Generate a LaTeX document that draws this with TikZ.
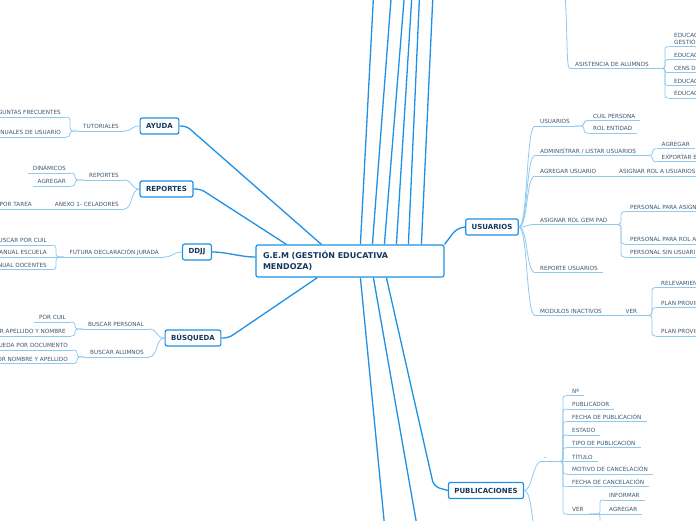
\documentclass[tikz,border=0pt]{standalone}
\usepackage{fontspec}
\setmainfont{DejaVu Sans}
\usepackage{tikz}
\usetikzlibrary{calc}
\usepackage{xcolor}
\definecolor{mmblue}{HTML}{1E90E6}
\definecolor{mmline}{HTML}{8DC9F0}
\definecolor{mmdark}{HTML}{15395E}
\definecolor{mmgray}{HTML}{3D566E}

\begin{document}
\begin{tikzpicture}[
  x=1pt, y=-1pt,
  thickline/.style={draw=mmblue, line width=1.3pt},
  thinline/.style={draw=mmline, line width=0.8pt},
  uline/.style={append after command={(\tikzlastnode.south west) edge[thinline] (\tikzlastnode.south east)}},
  lab/.style={font=\fontsize{5.7}{6.7}\selectfont, text=mmgray, inner xsep=5pt, inner ysep=2pt, text depth=0pt, uline},
  rlab/.style={lab, anchor=south west},
  llab/.style={lab, anchor=south east},
  topic/.style={draw=mmblue, line width=1.2pt, fill=white, rounded corners=2pt, font=\bfseries\fontsize{7}{8}\selectfont, text=mmdark, inner xsep=6pt, inner ysep=0pt, minimum height=16pt},
  rootbox/.style={topic, font=\bfseries\fontsize{8}{11}\selectfont, align=left, text width=174pt, minimum height=32pt, inner xsep=7pt},
]
\useasboundingbox (0,0) rectangle (696,520);
\clip (0,0) rectangle (696,520);

\node[rootbox] (main) at (350,261) {G.E.M (GESTIÓN EDUCATIVA\\MENDOZA)};

\node[topic] (ayuda) at (159.5,126) {AYUDA};
\node[topic] (rep) at (166.5,189) {REPORTES};
\node[topic] (ddjj) at (197,252) {DDJJ};
\node[topic] (busq) at (193,338) {BÚSQUEDA};
\node[topic] (usu) at (492,227) {USUARIOS};
\node[topic] (pub) at (486,490.5) {PUBLICACIONES};

\draw[thickline, rounded corners=5pt] (ayuda.east) -- ++(7,0) -- ([xshift=66pt]main.north west);
\draw[thickline, rounded corners=5pt] (rep.east) -- ++(7,0) -- ([xshift=31pt]main.north west);
\draw[thickline] (ddjj.east) .. controls +(16,0) and +(-16,0) .. ([yshift=4pt]main.west);
\draw[thickline, rounded corners=5pt] (busq.east) -- ++(7,0) -- ([xshift=62pt]main.south west);
\draw[thickline, rounded corners=6pt] (main.north east) -- ++(12,-16) -- (usu.west);
\draw[thickline, rounded corners=6pt] ([xshift=131pt]main.south west) -- ($(pub.west)+(-14,-4)$) -- (pub.west);

\coordinate (up1) at (373.6,-6);
\coordinate (up2) at (391.4,-6);
\coordinate (up3) at (404.5,-6);
\coordinate (up4) at (412,-6);
\coordinate (up5) at (419.6,-6);
\coordinate (up6) at (433,-6);
\coordinate (down1) at (384.6,526);
\coordinate (down2) at (417,526);
\draw[thickline] ([xshift=105pt]main.north west) -- (up1);
\draw[thickline] ([xshift=117pt]main.north west) -- (up2);
\draw[thickline] ([xshift=129pt]main.north west) -- (up3);
\draw[thickline] ([xshift=141pt]main.north west) -- (up4);
\draw[thickline] ([xshift=153pt]main.north west) -- (up5);
\draw[thickline] ([xshift=166pt]main.north west) -- (up6);
\draw[thickline] ([xshift=105pt]main.south west) -- (down1);
\draw[thickline] ([xshift=118pt]main.south west) -- (down2);

\node[llab] (tut) at (124,131) {TUTORIALES};
\node[llab] (preg) at (66,117) {GUNTAS FRECUENTES};
\node[llab] (manu) at (66,137) {NUALES DE USUARIO};
\draw[thinline] (ayuda.west) .. controls +(-9,0) and +(9,0) .. (tut.south east);
\draw[thinline, rounded corners=3pt] (tut.south west) -| ($(preg.south east)+(4,0)$) -- (preg.south east);
\draw[thinline, rounded corners=3pt] (tut.south west) -| ($(manu.south east)+(4,0)$) -- (manu.south east);

\node[llab] (repsub) at (124,180) {REPORTES};
\node[llab] (din) at (71,173) {DINÁMICOS};
\node[llab] (agr) at (71,186) {AGREGAR};
\node[llab] (anexo) at (124,209) {ANEXO 1- CELADORES};
\node[llab] (tarea) at (37,209) {POR TAREA};
\draw[thinline] (rep.west) .. controls +(-9,0) and +(9,0) .. (repsub.south east);
\draw[thinline] (rep.west) .. controls +(-9,0) and +(9,0) .. (anexo.south east);
\draw[thinline, rounded corners=3pt] (repsub.south west) -| ($(din.south east)+(4,0)$) -- (din.south east);
\draw[thinline, rounded corners=3pt] (repsub.south west) -| ($(agr.south east)+(4,0)$) -- (agr.south east);
\draw[thinline] (anexo.south west) -- (tarea.south east);

\node[llab] (fut) at (164,257) {FUTURA DECLARACIÓN JURADA};
\node[llab] (bcuil) at (52,245) {USCAR POR CUIL};
\node[llab] (mesc) at (52,257) {MANUAL ESCUELA};
\node[llab] (mdoc) at (52,269.5) {NUAL DOCENTES};
\draw[thinline] (ddjj.west) .. controls +(-9,0) and +(9,0) .. (fut.south east);
\draw[thinline, rounded corners=3pt] (fut.south west) -| ($(bcuil.south east)+(4,0)$) -- (bcuil.south east);
\draw[thinline] (fut.south west) -- (mesc.south east);
\draw[thinline, rounded corners=3pt] (fut.south west) -| ($(mdoc.south east)+(4,0)$) -- (mdoc.south east);

\node[llab] (bper) at (149,329) {BUSCAR PERSONAL};
\node[llab] (pcuil) at (71,322) {POR CUIL};
\node[llab] (pape) at (71,336) {R APELLIDO Y NOMBRE};
\node[llab] (balu) at (149,357) {BUSCAR ALUMNOS};
\node[llab] (bdoc) at (73,350) {QUEDA POR DOCUMENTO};
\node[llab] (pnom) at (73,363.5) {OR NOMBRE Y APELLIDO};
\draw[thinline] (busq.west) .. controls +(-9,0) and +(9,0) .. (bper.south east);
\draw[thinline] (busq.west) .. controls +(-9,0) and +(9,0) .. (balu.south east);
\draw[thinline, rounded corners=3pt] (bper.south west) -| ($(pcuil.south east)+(4,0)$) -- (pcuil.south east);
\draw[thinline, rounded corners=3pt] (bper.south west) -| ($(pape.south east)+(4,0)$) -- (pape.south east);
\draw[thinline, rounded corners=3pt] (balu.south west) -| ($(bdoc.south east)+(4,0)$) -- (bdoc.south east);
\draw[thinline, rounded corners=3pt] (balu.south west) -| ($(pnom.south east)+(4,0)$) -- (pnom.south east);

\node[rlab] (uusr) at (535,126) {USUARIOS};
\node[rlab] (cuil) at (588,120.5) {CUIL PERSONA};
\node[rlab] (rol) at (588,133) {ROL ENTIDAD};
\node[rlab] (adm) at (535,155.5) {ADMINISTRAR / LISTAR USUARIOS};
\node[rlab] (agr2) at (656.5,148.7) {AGREGAR};
\node[rlab] (exp) at (656.5,161.7) {EXPORTAR E};
\node[rlab] (addu) at (535,176) {AGREGAR USUARIO};
\node[rlab] (asig) at (614,176) {ASIGNAR ROL A USUARIOS};
\node[rlab] (arg) at (535,224.5) {ASIGNAR ROL GEM PAD};
\node[rlab] (pp1) at (625,211.7) {PERSONAL PARA ASIGN};
\node[rlab] (pp2) at (625,244) {PERSONAL PARA ROL A};
\node[rlab] (pp3) at (625,257) {PERSONAL SIN USUARI};
\node[rlab] (rus) at (535,272.5) {REPORTE USUARIOS};
\node[rlab] (mod) at (535,315.5) {MODULOS INACTIVOS};
\node[rlab] (ver) at (620.5,315.5) {VER};
\node[rlab] (rel) at (656,287.5) {RELEVAMIEN};
\node[rlab] (pl1) at (656,307.7) {PLAN PROVIN};
\node[rlab] (pl2) at (656,336) {PLAN PROVIN};
\draw[thinline] (usu.east) .. controls +(9,0) and +(-9,0) .. (uusr.south west);
\draw[thinline] (usu.east) .. controls +(9,0) and +(-9,0) .. (adm.south west);
\draw[thinline] (usu.east) .. controls +(9,0) and +(-9,0) .. (addu.south west);
\draw[thinline] (usu.east) .. controls +(9,0) and +(-9,0) .. (arg.south west);
\draw[thinline] (usu.east) .. controls +(9,0) and +(-9,0) .. (rus.south west);
\draw[thinline] (usu.east) .. controls +(9,0) and +(-9,0) .. (mod.south west);
\draw[thinline, rounded corners=3pt] (uusr.south east) -| ($(cuil.south west)+(-4,0)$) -- (cuil.south west);
\draw[thinline, rounded corners=3pt] (uusr.south east) -| ($(rol.south west)+(-4,0)$) -- (rol.south west);
\draw[thinline, rounded corners=3pt] (adm.south east) -| ($(agr2.south west)+(-4,0)$) -- (agr2.south west);
\draw[thinline, rounded corners=3pt] (adm.south east) -| ($(exp.south west)+(-4,0)$) -- (exp.south west);
\draw[thinline] (addu.south east) -- (asig.south west);
\draw[thinline, rounded corners=3pt] (arg.south east) -| ($(pp1.south west)+(-4,0)$) -- (pp1.south west);
\draw[thinline, rounded corners=3pt] (arg.south east) -| ($(pp2.south west)+(-4,0)$) -- (pp2.south west);
\draw[thinline, rounded corners=3pt] (arg.south east) -| ($(pp3.south west)+(-4,0)$) -- (pp3.south west);
\draw[thinline] (mod.south east) -- (ver.south west);
\draw[thinline, rounded corners=3pt] (ver.south east) -| ($(rel.south west)+(-4,0)$) -- (rel.south west);
\draw[thinline, rounded corners=3pt] (ver.south east) -| ($(pl1.south west)+(-4,0)$) -- (pl1.south west);
\draw[thinline, rounded corners=3pt] (ver.south east) -| ($(pl2.south west)+(-4,0)$) -- (pl2.south west);

\coordinate (asisTop) at (565,-6);
\node[rlab] (asis) at (570,68.5) {ASISTENCIA DE ALUMNOS};
\node[rlab, align=left] (e1) at (669,46.7) {EDUCAC\\GESTIÓ};
\node[rlab] (e2) at (669,59.5) {EDUCAC};
\node[rlab] (e3) at (669,72.5) {CENS D};
\node[rlab] (e4) at (669,85.5) {EDUCAC};
\node[rlab] (e5) at (669,98) {EDUCAC};
\draw[thinline] (asisTop) .. controls (568,40) and (566,68.5) .. (asis.south west);
\draw[thinline, rounded corners=2.5pt] (asis.south east) -| ($(e1.south west)+(-4,0)$) -- (e1.south west);
\draw[thinline, rounded corners=2.5pt] (asis.south east) -| ($(e2.south west)+(-4,0)$) -- (e2.south west);
\draw[thinline, rounded corners=2pt] (asis.south east) -| ($(e3.south west)+(-4,0)$) -- (e3.south west);
\draw[thinline, rounded corners=2.5pt] (asis.south east) -| ($(e4.south west)+(-4,0)$) -- (e4.south west);
\draw[thinline, rounded corners=2.5pt] (asis.south east) -| ($(e5.south west)+(-4,0)$) -- (e5.south west);

\coordinate (pubDown) at (534,526);
\coordinate (verDown) at (600,530);
\node[rlab, inner xsep=3pt] (dash) at (541,461.5) {-};
\node[rlab] (num) at (567,395.7) {Nº};
\node[rlab] (publ) at (567,409) {PUBLICADOR};
\node[rlab] (fpub) at (567,421.7) {FECHA DE PUBLICACIÓN};
\node[rlab] (est) at (567,435) {ESTADO};
\node[rlab] (tipo) at (567,447.7) {TIPO DE PUBLICACIÓN};
\node[rlab] (tit) at (567,461.5) {TÍTULO};
\node[rlab] (mot) at (567,474) {MOTIVO DE CANCELACIÓN};
\node[rlab] (fcan) at (567,486.7) {FECHA DE CANCELACIÓN};
\node[rlab] (ver2) at (567,514) {VER};
\node[rlab] (inf) at (604,500) {INFORMAR};
\node[rlab] (agr3) at (604,514) {AGREGAR};
\draw[thinline] (pub.east) .. controls +(8,0) and +(-8,0) .. (dash.south west);
\draw[thinline] (pub.east) .. controls +(6,0) and +(-3,-15) .. (pubDown);
\draw[thinline, rounded corners=2.5pt] (dash.south east) -| ($(num.south west)+(-4,0)$) -- (num.south west);
\draw[thinline, rounded corners=2.5pt] (dash.south east) -| ($(publ.south west)+(-4,0)$) -- (publ.south west);
\draw[thinline, rounded corners=2.5pt] (dash.south east) -| ($(fpub.south west)+(-4,0)$) -- (fpub.south west);
\draw[thinline, rounded corners=2.5pt] (dash.south east) -| ($(est.south west)+(-4,0)$) -- (est.south west);
\draw[thinline, rounded corners=2.5pt] (dash.south east) -| ($(tipo.south west)+(-4,0)$) -- (tipo.south west);
\draw[thinline] (dash.south east) -- (tit.south west);
\draw[thinline, rounded corners=2.5pt] (dash.south east) -| ($(mot.south west)+(-4,0)$) -- (mot.south west);
\draw[thinline, rounded corners=2.5pt] (dash.south east) -| ($(fcan.south west)+(-4,0)$) -- (fcan.south west);
\draw[thinline, rounded corners=2.5pt] (dash.south east) -| ($(ver2.south west)+(-4,0)$) -- (ver2.south west);
\draw[thinline, rounded corners=2.5pt] (ver2.south east) -| ($(inf.south west)+(-4,0)$) -- (inf.south west);
\draw[thinline] (ver2.south east) -- (agr3.south west);
\draw[thinline, rounded corners=2.5pt] (ver2.south east) -| (verDown);
\end{tikzpicture}
\end{document}
